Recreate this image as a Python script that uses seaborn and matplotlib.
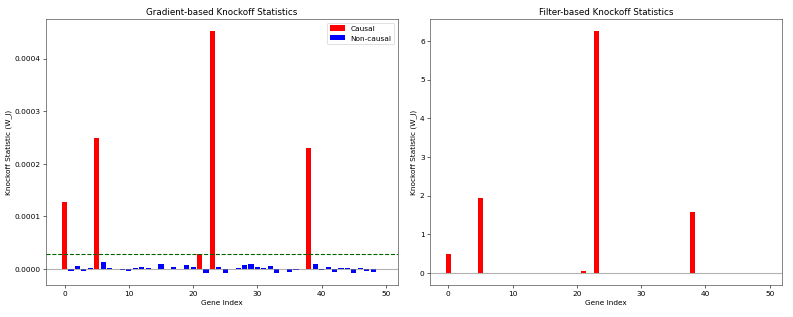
import matplotlib
matplotlib.use('Agg')
import numpy as np
import pandas as pd
import matplotlib.pyplot as plt
import seaborn as sns

# indices of causal genes
causal_idx = [0, 5, 21, 23, 38]

# gradient-based statistics W_j
grad_w = [0.000127, -0.000003, 0.0000057, -0.000003, 0.0000025,
          0.000250, 0.000014, 0.000002, -0.000001, -0.000002,
          -0.0000035, 0.000002, 0.0000045, 0.000001, -0.000001,
          0.0000085, 0.0000003, 0.000003, 0.0000003, 0.000007,
          0.000003, 0.000028, -0.000007, 0.000453, 0.000004,
          -0.0000075, 0.0000003, 0.000002, 0.0000075, 0.00001,
          0.000003, 0.000001, 0.000005, -0.0000075, 0.0000003,
          -0.000005, -0.0000025, 0.0000005, 0.000231, 0.000009,
          -0.0000025, 0.0000045, -0.000006, 0.000002, 0.000001,
          -0.000008, 0.000002, -0.0000045, -0.000006, 0.0000005]
grad_threshold = 0.000028

# filter-based statistics W_j
filt_w = [0.49, 0.003, 0.002, 0.003, 0.002, 1.95, 0.003, 0.002, 0.003, 0.002,
          0.002, 0.003, 0.002, 0.003, 0.002, 0.003, 0.002, 0.003, 0.002, 0.003,
          0.002, 0.06, 0.003, 6.26, 0.002, 0.003, 0.002, 0.003, 0.002, 0.003,
          0.002, 0.003, 0.002, 0.003, 0.002, 0.003, 0.002, 0.003, 1.59, 0.003,
          0.002, 0.003, 0.002, 0.003, 0.002, 0.003, 0.002, 0.003, 0.002, 0.003]

genes = np.arange(len(grad_w))
tipo = ['Causal' if g in causal_idx else 'Non-causal' for g in genes]
df = pd.DataFrame({'gene': genes, 'grad': grad_w, 'filt': filt_w, 'tipo': tipo})

# estilo matplotlib clasico (sin grid, ticks hacia fuera)
sns.set_style("ticks")
plt.rcParams.update({'axes.edgecolor': '#333333', 'xtick.color': '#333333',
                     'ytick.color': '#333333', 'xtick.labelcolor': 'black',
                     'ytick.labelcolor': 'black', 'text.color': 'black',
                     'axes.labelcolor': 'black'})
paleta = {'Causal': 'red', 'Non-causal': 'blue'}
ANCHO = 0.8

fig, (ax1, ax2) = plt.subplots(1, 2, figsize=(15, 6), dpi=793 / 15)
fig.subplots_adjust(left=0.058, right=0.986, bottom=0.1, top=0.94, wspace=0.09)

for ax, col, titulo in [(ax1, 'grad', 'Gradient-based Knockoff Statistics'),
                        (ax2, 'filt', 'Filter-based Knockoff Statistics')]:
    sns.barplot(data=df, x='gene', y=col, hue='tipo', palette=paleta,
                native_scale=True, dodge=False, ax=ax,
                saturation=1, linewidth=0, legend=(ax is ax1))
    # ancho de barra tipo plt.bar y margen por debajo de cero
    for p in ax.patches:
        centro = p.get_x() + p.get_width() / 2
        p.set_x(centro - ANCHO / 2)
        p.set_width(ANCHO)
        p.sticky_edges.x[:] = []
        p.sticky_edges.y[:] = []
    ax.relim()
    ax.autoscale_view()
    ax.axhline(0, color='gray', linewidth=1.5, alpha=0.6)
    ax.set_title(titulo, fontsize=12)
    ax.set_xlabel('Gene Index', fontsize=10)
    ax.set_ylabel('Knockoff Statistic (W_j)', fontsize=10)
    ax.tick_params(axis='both', labelsize=10, length=3.5, width=1)

ax1.axhline(grad_threshold, color='darkgreen', linestyle='--', linewidth=1.5)
ax1.legend(title=None, loc='upper right', fontsize=10)

plt.savefig('out.png', dpi=793 / 15)
plt.close()
